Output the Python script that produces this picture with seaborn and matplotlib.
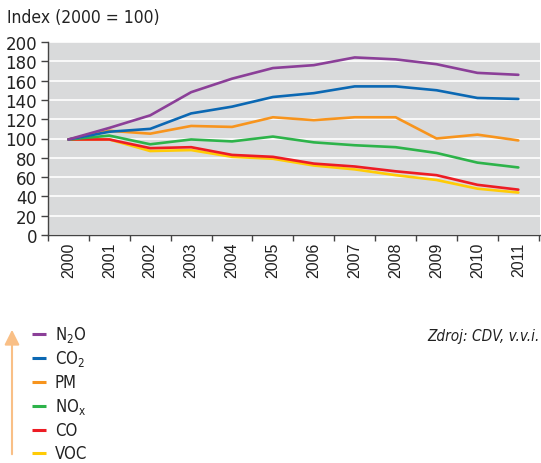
import numpy as np
import pandas as pd
import seaborn as sns
import matplotlib.pyplot as plt
from matplotlib.ticker import FixedLocator

years = list(range(2000, 2012))
n2o = [99, 111, 124, 148, 162, 173, 176, 184, 182, 177, 168, 166]
co2 = [99, 107, 110, 126, 133, 143, 147, 154, 154, 150, 142, 141]
pm = [99, 108, 105, 113, 112, 122, 119, 122, 122, 100, 104, 98]
nox = [99, 103, 94, 99, 97, 102, 96, 93, 91, 85, 75, 70]
co = [99, 99, 90, 91, 83, 81, 74, 71, 66, 62, 52, 47]
voc = [99, 99, 87, 88, 81, 79, 72, 68, 62, 57, 48, 44]

labels = ['N$_2$O', 'CO$_2$', 'PM', 'NO$_x$', 'CO', 'VOC']
series = [n2o, co2, pm, nox, co, voc]
colors = ['#8b3f98', '#0b68b3', '#f7941d', '#2db34a', '#ed1c24', '#ffcb05']

df = pd.DataFrame({
    'year': years * len(labels),
    'value': sum(series, []),
    'gas': [lab for lab in labels for _ in years],
})

sns.set_style('white')
plt.rcParams['font.family'] = ['DejaVu Sans']
plt.rcParams['font.stretch'] = 'condensed'
plt.rcParams['mathtext.default'] = 'regular'

fig = plt.figure(figsize=(5.41, 4.64), dpi=100)
ax = fig.add_axes([48 / 541, 1 - 236 / 464, 492 / 541, 193 / 464])
ax.set_facecolor('#d9dadb')

# draw in reverse so VOC sits under CO, like the original
for lab, col in list(zip(labels, colors))[::-1]:
    sub = df[df['gas'] == lab]
    sns.lineplot(data=sub, x='year', y='value', color=col, linewidth=1.9, ax=ax)

ax.set_xlim(1999.5, 2011.5 + 0.03)
ax.set_ylim(0, 200)
ax.set_yticks(range(0, 201, 20))
ax.set_yticklabels([str(v) for v in range(0, 201, 20)], fontsize=12, stretch='normal', color='#222222')
ax.yaxis.grid(True, color='white', linewidth=1.2)
ax.set_axisbelow(True)
ax.set_xticks(years)
ax.set_xticklabels([str(y) for y in years], rotation=90, fontsize=11.5, color='#222222',
                   family='Liberation Sans', stretch='normal')
ax.xaxis.set_minor_locator(FixedLocator(np.arange(1999.5, 2011.6, 1)))
ax.tick_params(axis='x', which='major', length=0, pad=5)
ax.tick_params(axis='x', which='minor', length=4, width=1, color='#444444', direction='out', bottom=True)
ax.tick_params(axis='y', length=5, width=1, color='#444444', left=True, pad=3)
for s in ['top', 'right']:
    ax.spines[s].set_visible(False)
for s in ['left', 'bottom']:
    ax.spines[s].set_color('#444444')
    ax.spines[s].set_linewidth(1)
ax.set_xlabel('')
ax.set_ylabel('')

fig.text(7 / 541, 1 - 18 / 464, 'Index (2000 = 100)', fontsize=12.5, color='#222222', va='center')
fig.text(540 / 541, 1 - 337 / 464, 'Zdroj: CDV, v.v.i.', fontsize=11, style='italic',
         color='#222222', ha='right', va='center')

# overlay axes in pixel coordinates for legend and arrow
ax2 = fig.add_axes([0, 0, 1, 1], facecolor='none')
ax2.set_axis_off()
ax2.set_xlim(0, 541)
ax2.set_ylim(464, 0)
row_y = [335, 359, 383, 407, 431, 454]
for lab, col, yy in zip(labels, colors, row_y):
    ax2.plot([32, 46], [yy, yy], color=col, linewidth=2.2, solid_capstyle='butt')
    ax2.text(55, yy, lab, fontsize=12, color='#222222', va='center')
ax2.annotate('', xy=(12, 328), xytext=(12, 458),
             arrowprops=dict(arrowstyle='-|>,head_length=0.9,head_width=0.45',
                             color='#f9bf86', linewidth=1.5))

fig.savefig('out.png', dpi=100)
